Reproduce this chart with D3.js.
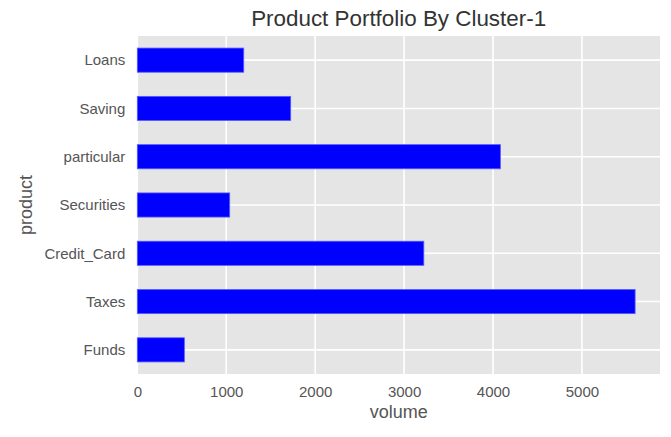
<!DOCTYPE html>
<html><head><meta charset="utf-8">
<script src="https://cdn.jsdelivr.net/npm/d3@7"></script>
<style>body{margin:0;background:#fff}svg{display:block}</style>
</head><body>
<svg id="c" width="671" height="437"></svg>
<script>
const categories = ["Funds","Taxes","Credit_Card","Securities","particular","Saving","Loans"];
const volume = [529, 5598, 3222, 1039, 4083, 1725, 1197];
const xTicks = [0,1000,2000,3000,4000,5000];
const title = "Product Portfolio By Cluster-1";

const svg = d3.select("#c");
const m = {l:137.3, r:660, t:36, b:374};
const font = "'Liberation Sans', Arial, Helvetica, sans-serif";
const xmax = d3.max(volume)*1.05;
const x = d3.scaleLinear().domain([0,xmax]).range([m.l,m.r]);
const y = d3.scaleLinear().domain([-0.5,categories.length-0.5]).range([m.b,m.t]);

svg.append("rect").attr("x",m.l).attr("y",m.t).attr("width",m.r-m.l).attr("height",m.b-m.t).attr("fill","#e5e5e5");

const g = svg.append("g");
g.selectAll(".vg").data(xTicks).join("line")
  .attr("x1",d=>x(d)).attr("x2",d=>x(d)).attr("y1",m.t).attr("y2",m.b)
  .attr("stroke","#fff").attr("stroke-width",1.6);
g.selectAll(".hg").data(categories).join("line")
  .attr("x1",m.l).attr("x2",m.r).attr("y1",(d,i)=>y(i)).attr("y2",(d,i)=>y(i))
  .attr("stroke","#fff").attr("stroke-width",1.6);

const bh = y(0)-y(0.5);
svg.selectAll(".bar").data(volume).join("rect")
  .attr("x",x(0)).attr("y",(d,i)=>y(i+0.25)).attr("width",d=>x(d)-x(0)).attr("height",bh)
  .attr("fill","#0000ff").attr("stroke","#5a5aff").attr("stroke-width",0.8);

const xa = svg.append("g").attr("transform",`translate(0,${m.b})`)
  .call(d3.axisBottom(x).tickValues(xTicks).tickFormat(d3.format("d")).tickSize(0).tickPadding(12));
xa.select(".domain").remove();
xa.selectAll("text").attr("fill","#555").style("font-family",font).style("font-size","15px");

const ya = svg.append("g").attr("transform",`translate(${m.l},0)`)
  .call(d3.axisLeft(y).tickValues(d3.range(categories.length)).tickFormat(i=>categories[i]).tickSize(0).tickPadding(12));
ya.select(".domain").remove();
ya.selectAll("text").attr("fill","#555").style("font-family",font).style("font-size","15px");

svg.append("text").attr("x",(m.l+m.r)/2).attr("y",418).attr("text-anchor","middle")
  .attr("fill","#555").style("font-family",font).style("font-size","18px").text("volume");
svg.append("text").attr("transform",`translate(32,${(m.t+m.b)/2}) rotate(-90)`).attr("text-anchor","middle")
  .attr("fill","#555").style("font-family",font).style("font-size","18px").text("product");
svg.append("text").attr("x",(m.l+m.r)/2).attr("y",26).attr("text-anchor","middle")
  .attr("fill","#333").style("font-family",font).style("font-size","22.4px").text(title);
</script>
</body></html>
